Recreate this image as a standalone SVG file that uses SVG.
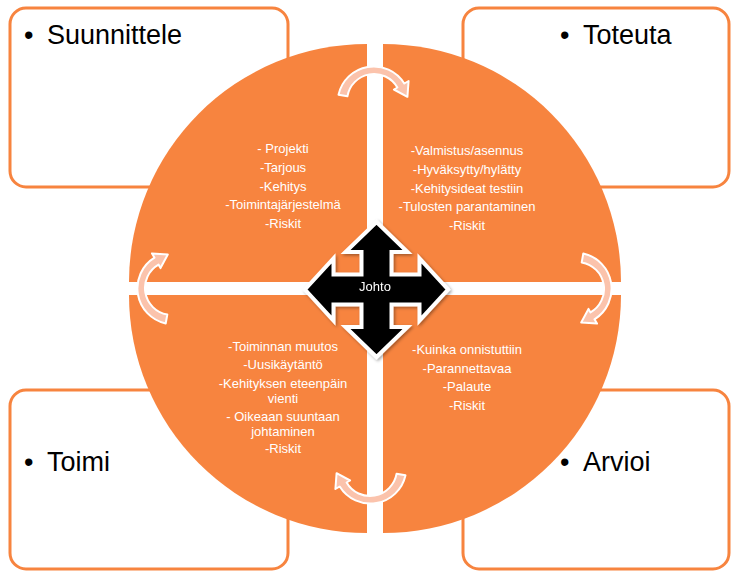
<svg xmlns="http://www.w3.org/2000/svg" width="731" height="572" viewBox="0 0 731 572">
<style>
.box{fill:#ffffff;stroke:#F7843F;stroke-width:3}
.quad{fill:#F7843F}
.title{font-family:"Liberation Sans",Arial,sans-serif;font-size:27px;fill:#000000}
.item{font-family:"Liberation Sans",Arial,sans-serif;font-size:13px;fill:#ffffff;text-anchor:middle}
.cyc{fill:#FBC3AC;stroke:#ffffff;stroke-width:2;stroke-linejoin:round}
.cross{fill:#000000;stroke:#ffffff;stroke-width:4;stroke-linejoin:miter}
</style>
<defs>
<filter id="sh" x="-20%" y="-20%" width="140%" height="140%">
<feDropShadow dx="1.5" dy="1.5" stdDeviation="1.5" flood-color="#000000" flood-opacity="0.35"/>
</filter>
<path id="cyc" d="M -35.5 -6.3 A 36 36 0 0 1 30.3 -17.5 L 34.6 -20 L 33.4 -4.2 L 19.9 -11.5 L 23.4 -13.5 A 27 27 0 0 0 -26.6 -4.7 Z"/>
</defs>
<rect width="731" height="572" fill="#ffffff"/>
<g id="plan">
<rect class="box" x="10" y="8" width="278" height="179" rx="16"/>
<text class="title" y="44"><tspan x="24">•</tspan><tspan x="47">Suunnittele</tspan></text>
</g>
<g id="do">
<rect class="box" x="463" y="8" width="266" height="179" rx="16"/>
<text class="title" y="44"><tspan x="560">•</tspan><tspan x="583">Toteuta</tspan></text>
</g>
<g id="act">
<rect class="box" x="10" y="390" width="278" height="179" rx="16"/>
<text class="title" y="471"><tspan x="24">•</tspan><tspan x="47">Toimi</tspan></text>
</g>
<g id="check">
<rect class="box" x="463" y="390" width="266" height="179" rx="16"/>
<text class="title" y="471"><tspan x="560">•</tspan><tspan x="583">Arvioi</tspan></text>
</g>
<g id="quad-plan">
<path class="quad" d="M 367 282 H 129 A 238 238 0 0 1 367 44 Z"/>
<text class="item" x="283"><tspan x="283" y="153">- Projekti</tspan><tspan x="283" y="172">-Tarjous</tspan><tspan x="283" y="191">-Kehitys</tspan><tspan x="283" y="209">-Toimintajärjestelmä</tspan><tspan x="283" y="228">-Riskit</tspan></text>
</g>
<g id="quad-do">
<path class="quad" d="M 383 282 V 44 A 238 238 0 0 1 621 282 Z"/>
<text class="item" x="467"><tspan x="467" y="155">-Valmistus/asennus</tspan><tspan x="467" y="174">-Hyväksytty/hylätty</tspan><tspan x="467" y="193">-Kehitysideat testiin</tspan><tspan x="467" y="211">-Tulosten parantaminen</tspan><tspan x="467" y="230">-Riskit</tspan></text>
</g>
<g id="quad-check">
<path class="quad" d="M 383 295 H 621 A 238 238 0 0 1 383 533 Z"/>
<text class="item" x="467"><tspan x="467" y="354">-Kuinka onnistuttiin</tspan><tspan x="467" y="373">-Parannettavaa</tspan><tspan x="467" y="391">-Palaute</tspan><tspan x="467" y="410">-Riskit</tspan></text>
</g>
<g id="quad-act">
<path class="quad" d="M 367 295 V 533 A 238 238 0 0 1 129 295 Z"/>
<text class="item" x="283"><tspan x="283" y="351">-Toiminnan muutos</tspan><tspan x="283" y="369">-Uusikäytäntö</tspan><tspan x="283" y="388">-Kehityksen eteenpäin</tspan><tspan x="283" y="403">vienti</tspan><tspan x="283" y="421">- Oikeaan suuntaan</tspan><tspan x="283" y="436">johtaminen</tspan><tspan x="283" y="453">-Riskit</tspan></text>
</g>
<g id="connectors">
<use href="#cyc" class="cyc" transform="translate(374 101)"/>
<use href="#cyc" class="cyc" transform="translate(577 289) rotate(90)"/>
<use href="#cyc" class="cyc" transform="translate(370 469) rotate(180)"/>
<use href="#cyc" class="cyc" transform="translate(172 288) rotate(270)"/>
</g>
<g id="johto" filter="url(#sh)">
<path class="cross" d="M 376.5 222 L 407.5 252 L 391.5 252 L 391.5 274.5 L 419.5 274.5 L 419.5 258.5 L 448 289.5 L 419.5 320.5 L 419.5 304.5 L 391.5 304.5 L 391.5 327 L 407.5 327 L 376.5 357 L 345.5 327 L 361.5 327 L 361.5 304.5 L 333.5 304.5 L 333.5 320.5 L 305 289.5 L 333.5 258.5 L 333.5 274.5 L 361.5 274.5 L 361.5 252 L 345.5 252 Z"/>
<text class="item" x="375" y="291">Johto</text>
</g>
</svg>
